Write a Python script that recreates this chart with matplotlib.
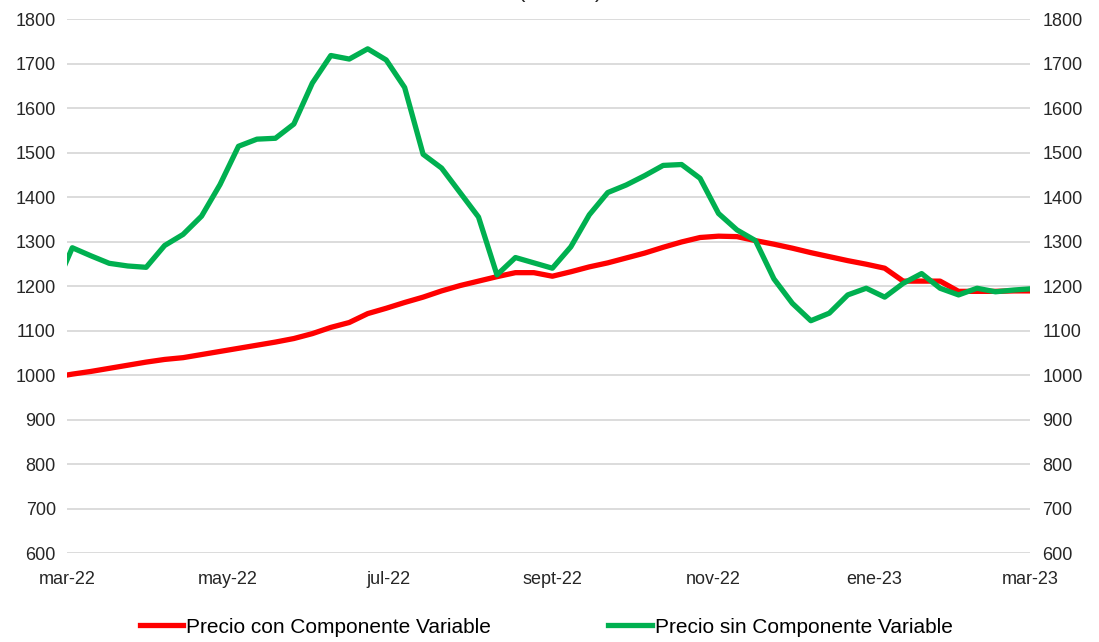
import numpy as np
import pandas as pd
import matplotlib
matplotlib.use('Agg')
import matplotlib.pyplot as plt

plt.rcParams['font.family'] = ['Liberation Sans', 'DejaVu Sans']

# weekly data (thursdays), first point falls just before the axis start
fechas = pd.date_range('2022-02-24', '2023-03-02', freq='7D')

precio_con = [995, 1002, 1008, 1015, 1022, 1029, 1035, 1039, 1046, 1053,
              1060, 1067, 1074, 1082, 1093, 1107, 1118, 1138, 1150, 1163,
              1175, 1189, 1201, 1211, 1221, 1230, 1230, 1222, 1232, 1243,
              1252, 1263, 1274, 1287, 1299, 1309, 1312, 1311, 1302, 1294,
              1285, 1275, 1266, 1257, 1249, 1240, 1211, 1211, 1211, 1188,
              1188, 1188, 1189, 1189]

precio_sin = [1190, 1286, 1268, 1251, 1245, 1242, 1291, 1316, 1357, 1428,
              1514, 1530, 1532, 1564, 1656, 1718, 1710, 1733, 1708, 1646,
              1496, 1465, 1410, 1355, 1225, 1264, 1252, 1240, 1288, 1360,
              1410, 1427, 1448, 1471, 1473, 1442, 1363, 1326, 1302, 1216,
              1161, 1122, 1139, 1180, 1195, 1175, 1206, 1228, 1195, 1180,
              1195, 1187, 1191, 1194]

tick_fechas = ['2022-03-01', '2022-05-01', '2022-07-01', '2022-09-01',
               '2022-11-01', '2023-01-01', '2023-03-01']
tick_labels = ['mar-22', 'may-22', 'jul-22', 'sept-22', 'nov-22', 'ene-23', 'mar-23']

fig = plt.figure(figsize=(10.99, 6.42), dpi=100)
ax = fig.add_axes([0.061, 0.1386, 0.876, 0.8318])

ax.plot(fechas, precio_con, color='#FF0000', lw=3.8, label='Precio con Componente Variable',
        solid_joinstyle='round', zorder=3)
ax.plot(fechas, precio_sin, color='#00B050', lw=3.8, label='Precio sin Componente Variable',
        solid_joinstyle='round', zorder=4)

ax.set_xlim(pd.Timestamp('2022-03-01'), pd.Timestamp('2023-03-01'))
ax.set_ylim(600, 1800)
yt = np.arange(600, 1801, 100)
ax.set_yticks(yt)
ax.set_xticks(pd.to_datetime(tick_fechas))
ax.set_xticklabels(tick_labels)
ax.grid(axis='y', color='#D9D9D9', lw=1.3, zorder=0)
ax.set_axisbelow(True)
for s in ax.spines.values():
    s.set_visible(False)
ax.tick_params(axis='y', length=0, pad=8, labelsize=13, labelcolor='#262626')
ax.tick_params(axis='x', length=0, pad=13, labelsize=13, labelcolor='#262626')

ax2 = ax.twinx()
ax2.set_ylim(600, 1800)
ax2.set_yticks(yt)
for s in ax2.spines.values():
    s.set_visible(False)
ax2.tick_params(axis='y', length=0, pad=9, labelsize=13, labelcolor='#262626')

# title sits mostly above the image edge, as in the original capture
fig.text(0.51, 1 + 3.5 / 642, '(€/MWh)', ha='center', va='baseline', fontsize=16, color='#262626')

fig.legend(loc='center', bbox_to_anchor=(0.497, 0.023), ncol=2, frameon=False,
           fontsize=15, handlelength=2.1, handletextpad=0.15, columnspacing=5.6)

plt.savefig('out.png', dpi=100)
